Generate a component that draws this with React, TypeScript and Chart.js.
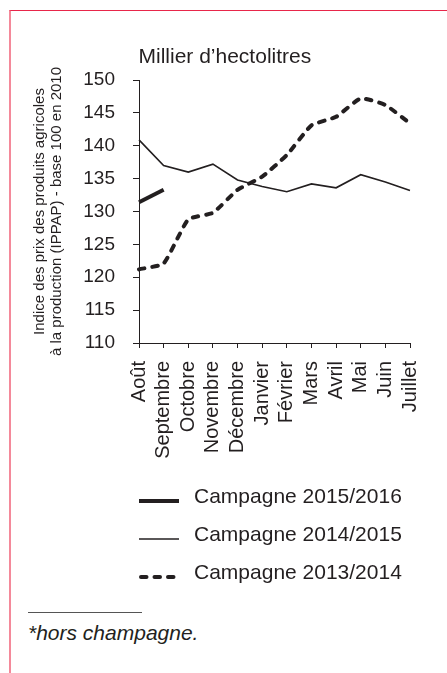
import React, { useEffect, useRef } from 'react';
import { Chart, registerables } from 'chart.js';

Chart.register(...registerables);

// ---------- data ----------
const MONTHS = ['Août', 'Septembre', 'Octobre', 'Novembre', 'Décembre', 'Janvier', 'Février', 'Mars', 'Avril', 'Mai', 'Juin', 'Juillet'];
const SERIES_LABELS = ['Campagne 2015/2016', 'Campagne 2014/2015', 'Campagne 2013/2014'];
const CAMPAGNE_2015_2016 = [131.4, 133.3, null, null, null, null, null, null, null, null, null, null];
const CAMPAGNE_2014_2015 = [140.9, 137.0, 136.0, 137.2, 134.8, 133.8, 133.0, 134.2, 133.6, 135.6, 134.5, 133.2];
const CAMPAGNE_2013_2014 = [121.2, 122.1, 128.8, 129.8, 133.3, 135.3, 138.6, 143.1, 144.4, 147.2, 146.2, 143.4];
const Y_TICKS = [110, 115, 120, 125, 130, 135, 140, 145, 150];
const CHART_TITLE = 'Millier d’hectolitres';
const Y_TITLE = ['Indice des prix des produits agricoles', 'à la production (IPPAP) - base 100 en 2010'];
const FOOTNOTE = '*hors champagne.';

// ---------- styles ----------
const INK = '#231f20';
const FONT = '"Liberation Sans", Arial, Helvetica, sans-serif';

const overlayPlugin = {
  id: 'overlay',
  afterDraw(chart: any, _args: any, opts: any) {
    const { ctx, chartArea } = chart;
    ctx.save();
    ctx.fillStyle = INK;
    ctx.textAlign = 'left';
    ctx.textBaseline = 'alphabetic';
    ctx.font = `${opts.titleSize}px ${FONT}`;
    ctx.fillText(opts.title, chartArea.left + opts.titleDx, chartArea.top - opts.titleGap);

    ctx.font = `${opts.legendSize}px ${FONT}`;
    chart.data.datasets.forEach((ds: any, row: number) => {
      const y = opts.legendTop + row * opts.rowGap;
      const x0 = chartArea.left;
      const cap = ds.borderCapStyle || 'butt';
      const inset = cap === 'round' ? ds.borderWidth / 2 : 0;
      ctx.beginPath();
      ctx.setLineDash(ds.borderDash || []);
      ctx.lineCap = cap;
      ctx.lineWidth = ds.borderWidth;
      ctx.strokeStyle = ds.borderColor;
      ctx.moveTo(x0 + inset, y);
      ctx.lineTo(x0 + opts.sampleWidth - inset + (ds.borderDash ? 4 : 0), y);
      ctx.stroke();
      ctx.setLineDash([]);
      ctx.fillText(ds.label, x0 + opts.textDx, y + opts.textDy);
    });
    ctx.restore();
  },
};

export default function App() {
  const ref = useRef<HTMLCanvasElement | null>(null);

  useEffect(() => {
    if (!ref.current) return;
    const chart = new Chart(ref.current, {
      type: 'line',
      data: {
        labels: MONTHS,
        datasets: [
          {
            label: SERIES_LABELS[0],
            data: CAMPAGNE_2015_2016,
            borderColor: INK,
            backgroundColor: INK,
            borderWidth: 4,
            pointRadius: 0,
            tension: 0,
            spanGaps: false,
          },
          {
            label: SERIES_LABELS[1],
            data: CAMPAGNE_2014_2015,
            borderColor: INK,
            backgroundColor: INK,
            borderWidth: 1.6,
            pointRadius: 0,
            tension: 0,
          },
          {
            label: SERIES_LABELS[2],
            data: CAMPAGNE_2013_2014,
            borderColor: INK,
            backgroundColor: INK,
            borderWidth: 4,
            borderDash: [5.5, 8],
            borderCapStyle: 'round',
            pointRadius: 0,
            tension: 0.15,
          },
        ],
      } as any,
      options: {
        responsive: false,
        animation: false,
        devicePixelRatio: 1,
        events: [],
        layout: { padding: { left: 6, right: 33, top: 80, bottom: 117 } },
        plugins: {
          legend: { display: false },
          title: { display: false },
          tooltip: { enabled: false },
          overlay: {
            title: CHART_TITLE,
            titleSize: 21,
            titleDx: -0.5,
            titleGap: 16.7,
            legendSize: 21,
            legendTop: 501,
            rowGap: 38,
            sampleWidth: 40,
            textDx: 55,
            textDy: 1.5,
          },
        } as any,
        scales: {
          x: {
            type: 'category',
            offset: false,
            grid: {
              drawOnChartArea: false,
              drawTicks: true,
              tickLength: 5,
              color: INK,
              lineWidth: 1,
              offset: false,
            },
            border: { display: true, color: INK, width: 1 },
            ticks: {
              autoSkip: false,
              maxRotation: 90,
              minRotation: 90,
              padding: 13,
              color: INK,
              font: { family: FONT, size: 20 },
            },
            afterFit: (s: any) => {
              s.height = 140;
            },
          },
          y: {
            min: 110,
            max: 150,
            afterBuildTicks: (s: any) => {
              s.ticks = Y_TICKS.map((v) => ({ value: v }));
            },
            grid: {
              drawOnChartArea: false,
              drawTicks: true,
              tickLength: 6,
              color: INK,
              lineWidth: 1,
            },
            border: { display: true, color: INK, width: 1 },
            ticks: {
              padding: 18,
              color: INK,
              font: { family: FONT, size: 19 },
            },
            title: {
              display: true,
              text: Y_TITLE,
              color: INK,
              font: { family: FONT, size: 15, lineHeight: 17 / 15 },
              padding: { top: 25.5, bottom: 0 },
            },
            afterFit: (s: any) => {
              s.width = 133;
            },
          },
        },
      } as any,
      plugins: [overlayPlugin],
    });
    return () => chart.destroy();
  }, []);

  return (
    <div style={{ position: 'fixed', left: 0, top: 0, width: 447, height: 673, background: '#fff', overflow: 'hidden' }}>
      <div
        style={{
          position: 'absolute',
          left: 9,
          top: 10,
          width: 438,
          height: 663,
          borderTop: '1px solid #e8264a',
          borderLeft: '2px solid #f4899a',
          boxSizing: 'border-box',
        }}
      />
      <canvas ref={ref} width={447} height={600} style={{ position: 'absolute', left: 0, top: 0, width: 447, height: 600 }} />
      <div style={{ position: 'absolute', left: 28, top: 612, width: 114, height: 0, borderTop: '1px solid #555' }} />
      <div
        style={{
          position: 'absolute',
          left: 28,
          top: 620.7,
          fontFamily: FONT,
          fontStyle: 'italic',
          fontSize: 21,
          lineHeight: '24px',
          color: INK,
          whiteSpace: 'nowrap',
        }}
      >
        {FOOTNOTE}
      </div>
    </div>
  );
}
